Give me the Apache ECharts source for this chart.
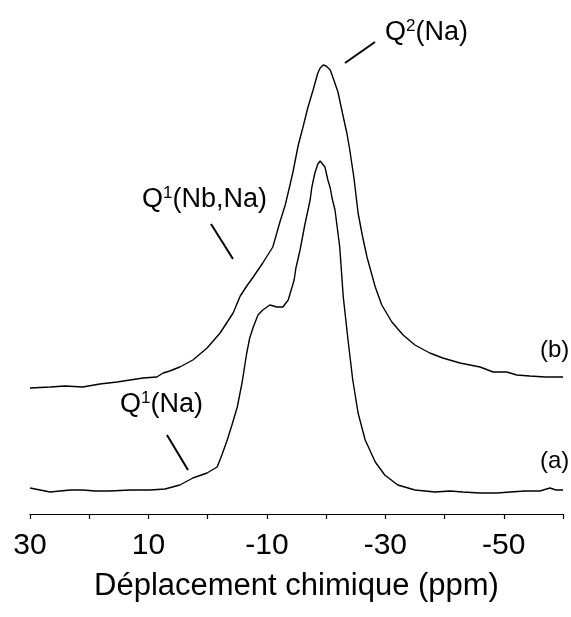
<!DOCTYPE html>
<html>
<head>
<meta charset="utf-8">
<script src="https://cdn.jsdelivr.net/npm/echarts@6/dist/echarts.min.js"></script>
<style>
  html, body { margin: 0; padding: 0; background: #fff; }
  #chart { width: 571px; height: 617px; }
</style>
</head>
<body>
<div id="chart"></div>
<script>
// chemical shift (ppm) and intensity (a.u.)
const ppmA = [30.0, 28.3, 26.6, 24.9, 23.2, 21.1, 19.0, 16.5, 13.1, 9.7, 7.2, 4.7, 2.5, 0.1, -1.6, -2.4, -3.3, -4.1, -5.0, -5.8,
  -6.6, -7.1, -7.7, -8.5, -9.3, -10.5, -11.7, -12.7, -13.6, -14.1, -14.6, -14.9, -15.6, -16.4, -17.3, -17.6, -18.1, -18.6, -19.0, -19.3,
  -19.8, -20.3, -20.7, -21.0, -21.5, -22.3, -22.9, -23.7, -24.5, -25.4, -26.6, -28.3, -29.9, -32.1, -35.0, -38.4, -40.9, -43.1, -46.0, -48.9,
  -51.1, -53.6, -56.1, -57.8, -58.8, -60.0]
const intA = [3, 1, -1, 0, 1, 1, 0, 0, 1, 1, 2, 6, 13, 18, 24, 36, 51, 66, 84, 108,
  138, 153, 164, 176, 181, 186, 184, 184, 191, 201, 211, 223, 241, 266, 291, 304, 318, 327, 330, 329,
  324, 311, 303, 293, 281, 244, 194, 151, 111, 78, 51, 29, 16, 6, 1, -1, 0, -1, -2, -2,
  -1, 0, 0, 3, 1, 1]

const ppmB = [30.0, 26.6, 24.1, 21.1, 18.2, 15.3, 13.1, 10.9, 8.6, 7.5, 6.4, 4.7, 2.5, 0.1, -2.1, -4.3, -5.5, -6.6, -7.7, -9.3,
  -11.0, -12.2, -13.1, -13.9, -14.4, -15.3, -16.1, -16.9, -17.8, -18.6, -19.0, -19.5, -20.0, -20.7, -21.3, -22.0, -22.9, -23.5, -24.0, -24.7,
  -25.4, -26.1, -26.9, -28.3, -29.4, -31.1, -33.0, -35.0, -37.5, -39.7, -42.6, -46.0, -48.2, -50.5, -52.2, -54.4, -57.0, -60.0]
const intB = [-1, 0, 1, 0, 3, 5, 7, 9, 10, 14, 16, 20, 27, 39, 54, 74, 91, 101, 110, 124,
  140, 165, 182, 202, 215, 242, 260, 279, 297, 314, 319, 322, 321, 317, 307, 295, 270, 254, 237, 209,
  174, 152, 130, 100, 82, 65, 52, 42, 34, 29, 24, 20, 15, 15, 12, 11, 10, 10]

const tickLabels = [30, 10, -10, -30, -50]

// vertical offsets used to stack the two spectra
const offsetA = 23
const offsetB = 127

const FONT = 'Liberation Sans, Arial, sans-serif'

const toPoints = (xs, ys, off) => xs.map((x, i) => [x, ys[i] + off])

const chart = echarts.init(document.getElementById('chart'), null, { renderer: 'canvas' })

const annot = (text, x, y) => ({
  type: 'text',
  left: x,
  top: y,
  style: {
    text,
    fontFamily: FONT,
    fill: '#000',
    rich: {
      n: { fontSize: 27, lineHeight: 30, fontFamily: FONT, fill: '#000' },
      s: { fontSize: 17, lineHeight: 17, fontFamily: FONT, fill: '#000', verticalAlign: 'top' },
    },
  },
})

const leader = (x1, y1, x2, y2) => ({
  type: 'line',
  shape: { x1, y1, x2, y2 },
  style: { stroke: '#000', lineWidth: 2 },
})

chart.setOption({
  animation: false,
  backgroundColor: '#fff',
  grid: { left: 30, right: 8, top: 14, bottom: 103 },
  xAxis: {
    type: 'value',
    min: -60,
    max: 30,
    interval: 10,
    inverse: true,
    name: 'Déplacement chimique (ppm)',
    nameLocation: 'middle',
    nameGap: 57,
    nameTextStyle: { fontSize: 31, color: '#000', fontFamily: FONT },
    axisLine: { lineStyle: { color: '#000', width: 1.2 } },
    axisTick: { length: 5, lineStyle: { color: '#000', width: 1.2 } },
    axisLabel: {
      fontSize: 30,
      color: '#000',
      fontFamily: FONT,
      margin: 17,
      formatter: v => (tickLabels.includes(v) ? String(v) : ''),
    },
    splitLine: { show: false },
  },
  yAxis: { type: 'value', min: 0, max: 500, show: false },
  series: [
    {
      name: '(a)',
      type: 'line',
      data: toPoints(ppmA, intA, offsetA),
      symbol: 'none',
      lineStyle: { color: '#000', width: 1.4 },
    },
    {
      name: '(b)',
      type: 'line',
      data: toPoints(ppmB, intB, offsetB),
      symbol: 'none',
      lineStyle: { color: '#000', width: 1.4 },
    },
  ],
  graphic: [
    annot('{n|Q}{s|2}{n|(Na)}', 385, 18),
    annot('{n|Q}{s|1}{n|(Nb,Na)}', 142, 185),
    annot('{n|Q}{s|1}{n|(Na)}', 120, 390),
    leader(345, 63, 375, 42),
    leader(211, 224, 233, 259),
    leader(167, 435, 188, 470),
    {
      type: 'text', left: 540, top: 338,
      style: { text: '(b)', fontSize: 24, fontFamily: FONT, fill: '#000' },
    },
    {
      type: 'text', left: 540, top: 449,
      style: { text: '(a)', fontSize: 24, fontFamily: FONT, fill: '#000' },
    },
  ],
})
</script>
</body>
</html>
